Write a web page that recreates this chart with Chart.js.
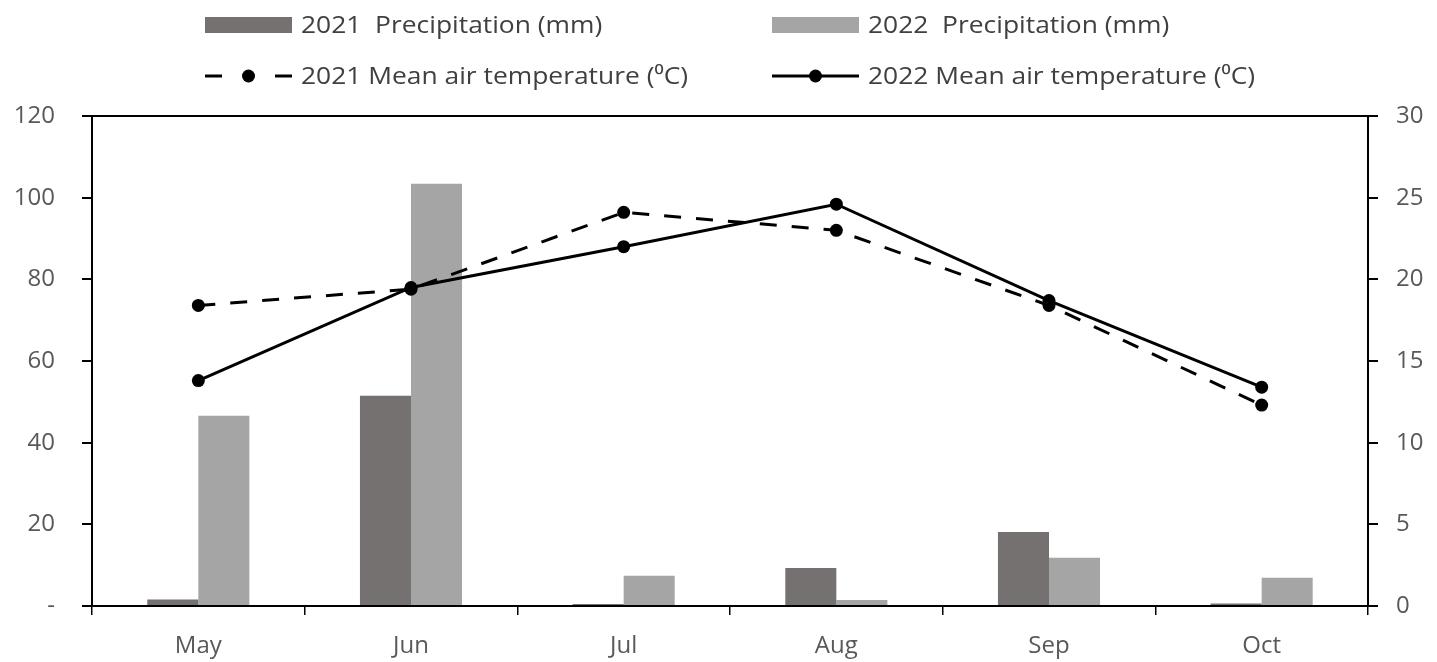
<!DOCTYPE html>
<html>
<head>
<meta charset="utf-8">
<script src="https://cdn.jsdelivr.net/npm/chart.js@4/dist/chart.umd.min.js"></script>
<style>
  html, body { margin: 0; padding: 0; background: #ffffff; }
  #wrap { width: 1437px; height: 662px; position: relative; }
</style>
</head>
<body>
<div id="wrap"><canvas id="c" width="1437" height="662"></canvas></div>
<script>
// Months of the growing season
const months = ['May', 'Jun', 'Jul', 'Aug', 'Sep', 'Oct'];

// Monthly precipitation (mm)
const precip2021 = [1.6, 51.5, 0.5, 9.3, 18.1, 0.6];
const precip2022 = [46.6, 103.4, 7.4, 1.5, 11.8, 6.9];

// Monthly mean air temperature (°C)
const temp2021 = [18.4, 19.4, 24.1, 23.0, 18.4, 12.3];
const temp2022 = [13.8, 19.5, 22.0, 24.6, 18.7, 13.4];

// Axis ranges and steps
const precipMax = 120, precipStep = 20;
const tempMax = 30, tempStep = 5;

const labelPrecip2021 = '2021  Precipitation (mm)';
const labelPrecip2022 = '2022  Precipitation (mm)';
const labelTemp2021 = '2021 Mean air temperature (\u2070C)';
const labelTemp2022 = '2022 Mean air temperature (\u2070C)';

const FONT = "'Open Sans', 'DejaVu Sans', sans-serif";
const TICK_COLOR = '#595959';

// Two-row legend drawn on the canvas above the plot
const legendPlugin = {
  id: 'twoRowLegend',
  afterDraw(chart) {
    const ctx = chart.ctx;
    const ds = chart.data.datasets;
    const items = [
      { d: ds[2], x: 205, y: 25, kind: 'box' },
      { d: ds[3], x: 772, y: 25, kind: 'box' },
      { d: ds[0], x: 205, y: 76, kind: 'line' },
      { d: ds[1], x: 772, y: 76, kind: 'line' }
    ];
    const symW = 87;
    ctx.save();
    items.forEach(it => {
      if (it.kind === 'box') {
        ctx.fillStyle = it.d.backgroundColor;
        ctx.fillRect(it.x, it.y - 8, symW, 16);
      } else {
        ctx.strokeStyle = '#000';
        ctx.lineWidth = 3;
        ctx.beginPath();
        if (it.d.borderDash && it.d.borderDash.length) {
          ctx.moveTo(it.x, it.y); ctx.lineTo(it.x + 17, it.y);
          ctx.moveTo(it.x + symW - 17, it.y); ctx.lineTo(it.x + symW, it.y);
        } else {
          ctx.moveTo(it.x, it.y); ctx.lineTo(it.x + symW, it.y);
        }
        ctx.stroke();
        ctx.fillStyle = '#000';
        ctx.beginPath();
        ctx.arc(it.x + symW / 2, it.y, 6.5, 0, Math.PI * 2);
        ctx.fill();
      }
      ctx.fillStyle = '#404040';
      ctx.font = '24px ' + FONT;
      ctx.textBaseline = 'middle';
      ctx.textAlign = 'left';
      ctx.save();
      ctx.translate(it.x + symW + 9, it.y + 1);
      ctx.scale(1.1, 1);
      ctx.fillText(it.d.label, 0, 0);
      ctx.restore();
    });
    ctx.restore();
  }
};

new Chart(document.getElementById('c'), {
  type: 'bar',
  data: {
    labels: months,
    datasets: [
      {
        type: 'line', label: labelTemp2021, data: temp2021, yAxisID: 'y1',
        borderColor: '#000', borderWidth: 3, borderDash: [17, 15],
        pointRadius: 6.5, pointBackgroundColor: '#000', pointBorderColor: '#000',
        pointBorderWidth: 0, tension: 0, order: 0
      },
      {
        type: 'line', label: labelTemp2022, data: temp2022, yAxisID: 'y1',
        borderColor: '#000', borderWidth: 3,
        pointRadius: 6.5, pointBackgroundColor: '#000', pointBorderColor: '#000',
        pointBorderWidth: 0, tension: 0, order: 1
      },
      {
        label: labelPrecip2021, data: precip2021, yAxisID: 'y',
        backgroundColor: '#767171', borderWidth: 0,
        categoryPercentage: 0.48, barPercentage: 1.0, order: 2
      },
      {
        label: labelPrecip2022, data: precip2022, yAxisID: 'y',
        backgroundColor: '#A5A5A5', borderWidth: 0,
        categoryPercentage: 0.48, barPercentage: 1.0, order: 3
      }
    ]
  },
  options: {
    responsive: false,
    animation: false,
    devicePixelRatio: 1,
    layout: { padding: { top: 116, left: 0, right: 0, bottom: 0 } },
    plugins: { legend: { display: false }, tooltip: { enabled: false } },
    scales: {
      x: {
        offset: true,
        grid: { offset: true, drawOnChartArea: false, drawTicks: true, tickLength: 9, color: '#000', lineWidth: 1.5 },
        border: { display: true, color: '#000', width: 2 },
        ticks: { color: TICK_COLOR, font: { family: FONT, size: 24 }, padding: 17, maxRotation: 0 },
        afterFit(scale) { scale.height = 56; }
      },
      y: {
        position: 'left', min: 0, max: precipMax,
        grid: {
          drawOnChartArea: true, drawTicks: true, tickLength: 10,
          color: c => (c.tick && c.tick.value === precipMax) ? '#000' : 'rgba(0,0,0,0)',
          tickColor: '#000', lineWidth: 2
        },
        border: { display: true, color: '#000', width: 2 },
        ticks: {
          stepSize: precipStep, color: TICK_COLOR, font: { family: FONT, size: 24 }, padding: 27,
          callback: v => (v === 0 ? '-' : v)
        },
        afterFit(scale) { scale.width = 92; }
      },
      y1: {
        position: 'right', min: 0, max: tempMax,
        grid: { drawOnChartArea: false, drawTicks: true, tickLength: 10, color: '#000', lineWidth: 2 },
        border: { display: true, color: '#000', width: 2 },
        ticks: { stepSize: tempStep, color: TICK_COLOR, font: { family: FONT, size: 24 }, padding: 18 },
        afterFit(scale) { scale.width = 69; }
      }
    }
  },
  plugins: [legendPlugin]
});
</script>
</body>
</html>
